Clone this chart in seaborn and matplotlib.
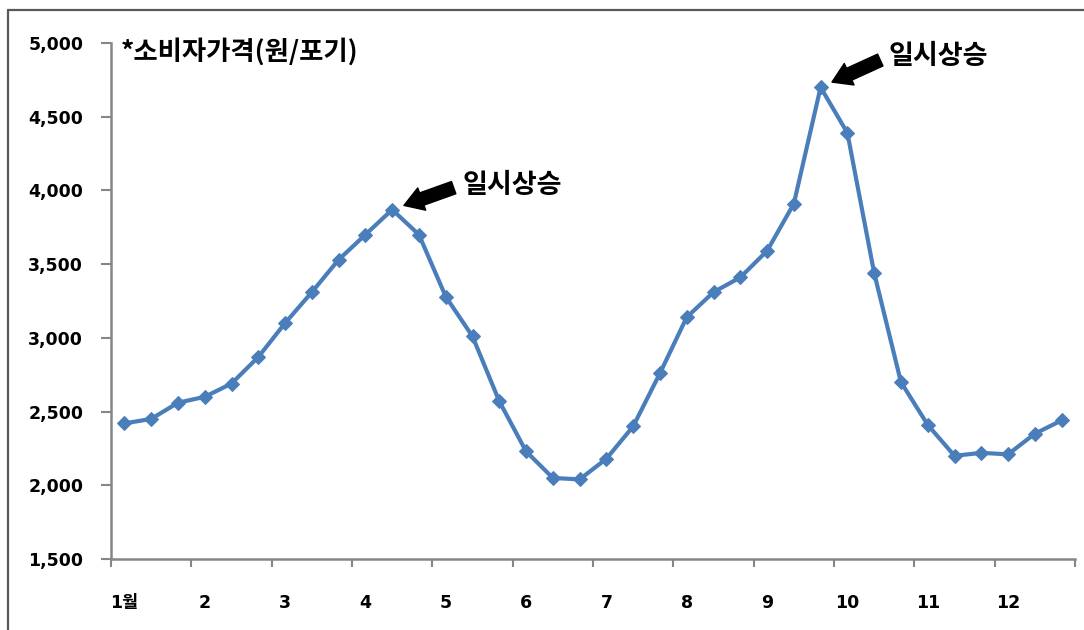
import matplotlib
matplotlib.use("Agg")
import matplotlib.pyplot as plt
from matplotlib.lines import Line2D
from matplotlib.ticker import FuncFormatter, FixedLocator
import seaborn as sns
import pandas as pd

# Retail price per head, three readings per month (early / mid / late)
month_labels = ["1월", "2", "3", "4", "5", "6", "7", "8", "9", "10", "11", "12"]
prices = [
    2420, 2450, 2560,
    2600, 2690, 2870,
    3100, 3310, 3530,
    3700, 3870, 3700,
    3280, 3010, 2570,
    2230, 2050, 2040,
    2180, 2400, 2760,
    3140, 3310, 3410,
    3590, 3910, 4700,
    4390, 3440, 2700,
    2410, 2200, 2220,
    2210, 2350, 2440,
]
y_ticks = [1500, 2000, 2500, 3000, 3500, 4000, 4500, 5000]
unit_label = "*소비자가격(원/포기)"
note_label = "일시상승"
peak_points = [10, 26]

df = pd.DataFrame({"idx": range(len(prices)), "price": prices})

sns.set_theme(style="white")
plt.rcParams["font.family"] = ["DejaVu Sans", "Noto Sans CJK KR"]
plt.rcParams["xtick.color"] = "black"
plt.rcParams["ytick.color"] = "black"
plt.rcParams["text.color"] = "black"

fig = plt.figure(figsize=(10.84, 6.30), dpi=100)
ax = fig.add_axes([0.1024, 0.1127, 0.8893, 0.819])

line_color = "#4A7EBB"
sns.lineplot(data=df, x="idx", y="price", ax=ax, color=line_color,
             linewidth=3.0, marker="D", markersize=7,
             markeredgecolor=line_color, markerfacecolor=line_color)

ax.set_xlim(-0.5, len(prices) - 0.5)
ax.set_ylim(y_ticks[0], y_ticks[-1])
ax.set_xlabel("")
ax.set_ylabel("")

# category boundaries every three readings carry the tick marks
ax.xaxis.set_major_locator(FixedLocator([i - 0.5 for i in range(0, len(prices) + 1, 3)]))
ax.set_xticklabels([])
ax.xaxis.set_minor_locator(FixedLocator(list(range(0, len(prices), 3))))
ax.set_xticklabels(month_labels, minor=True, fontsize=12.5, fontweight="bold",
                   family=["DejaVu Sans", "Noto Sans CJK KR"], color="black")
ax.tick_params(axis="x", which="major", direction="out", length=6, width=1.5,
               color="#868686", bottom=True)
ax.tick_params(axis="x", which="minor", length=0, pad=25)

ax.set_yticks(y_ticks)
ax.yaxis.set_major_formatter(FuncFormatter(lambda v, p: f"{int(v):,}"))
ax.tick_params(axis="y", direction="out", length=7, width=1.5, color="#868686",
               left=True, pad=13, labelsize=12.5, labelcolor="black")
for lbl in ax.get_yticklabels():
    lbl.set_fontweight("bold")

for side in ["top", "right"]:
    ax.spines[side].set_visible(False)
for side in ["left", "bottom"]:
    ax.spines[side].set_color("#868686")
    ax.spines[side].set_linewidth(1.8)

ax.text(0.01, 0.983, unit_label, transform=ax.transAxes, ha="left", va="center",
        fontsize=19, fontweight="bold", family=["Noto Sans CJK KR", "DejaVu Sans"],
        color="black")

# peak callouts
offsets = [(70, 25), (68, 31)]
for idx, (dx, dy) in zip(peak_points, offsets):
    ax.annotate(note_label, xy=(idx, prices[idx]), xytext=(dx, dy),
                textcoords="offset pixels", ha="left", va="center",
                fontsize=19.5, fontweight="bold",
                family=["Noto Sans CJK KR", "DejaVu Sans"], color="black",
                arrowprops=dict(arrowstyle="simple,head_length=0.8,head_width=1.0,tail_width=0.55",
                                mutation_scale=17, color="black", relpos=(0, 0.5),
                                shrinkA=4, shrinkB=9))

# outer chart frame
frame_kw = dict(color="#595959", linewidth=1.6, transform=fig.transFigure)
fig.add_artist(Line2D([0.0074, 0.0074], [0.0, 0.984], **frame_kw))
fig.add_artist(Line2D([0.0074, 1.0], [0.984, 0.984], **frame_kw))

fig.savefig("out.png", dpi=100)
